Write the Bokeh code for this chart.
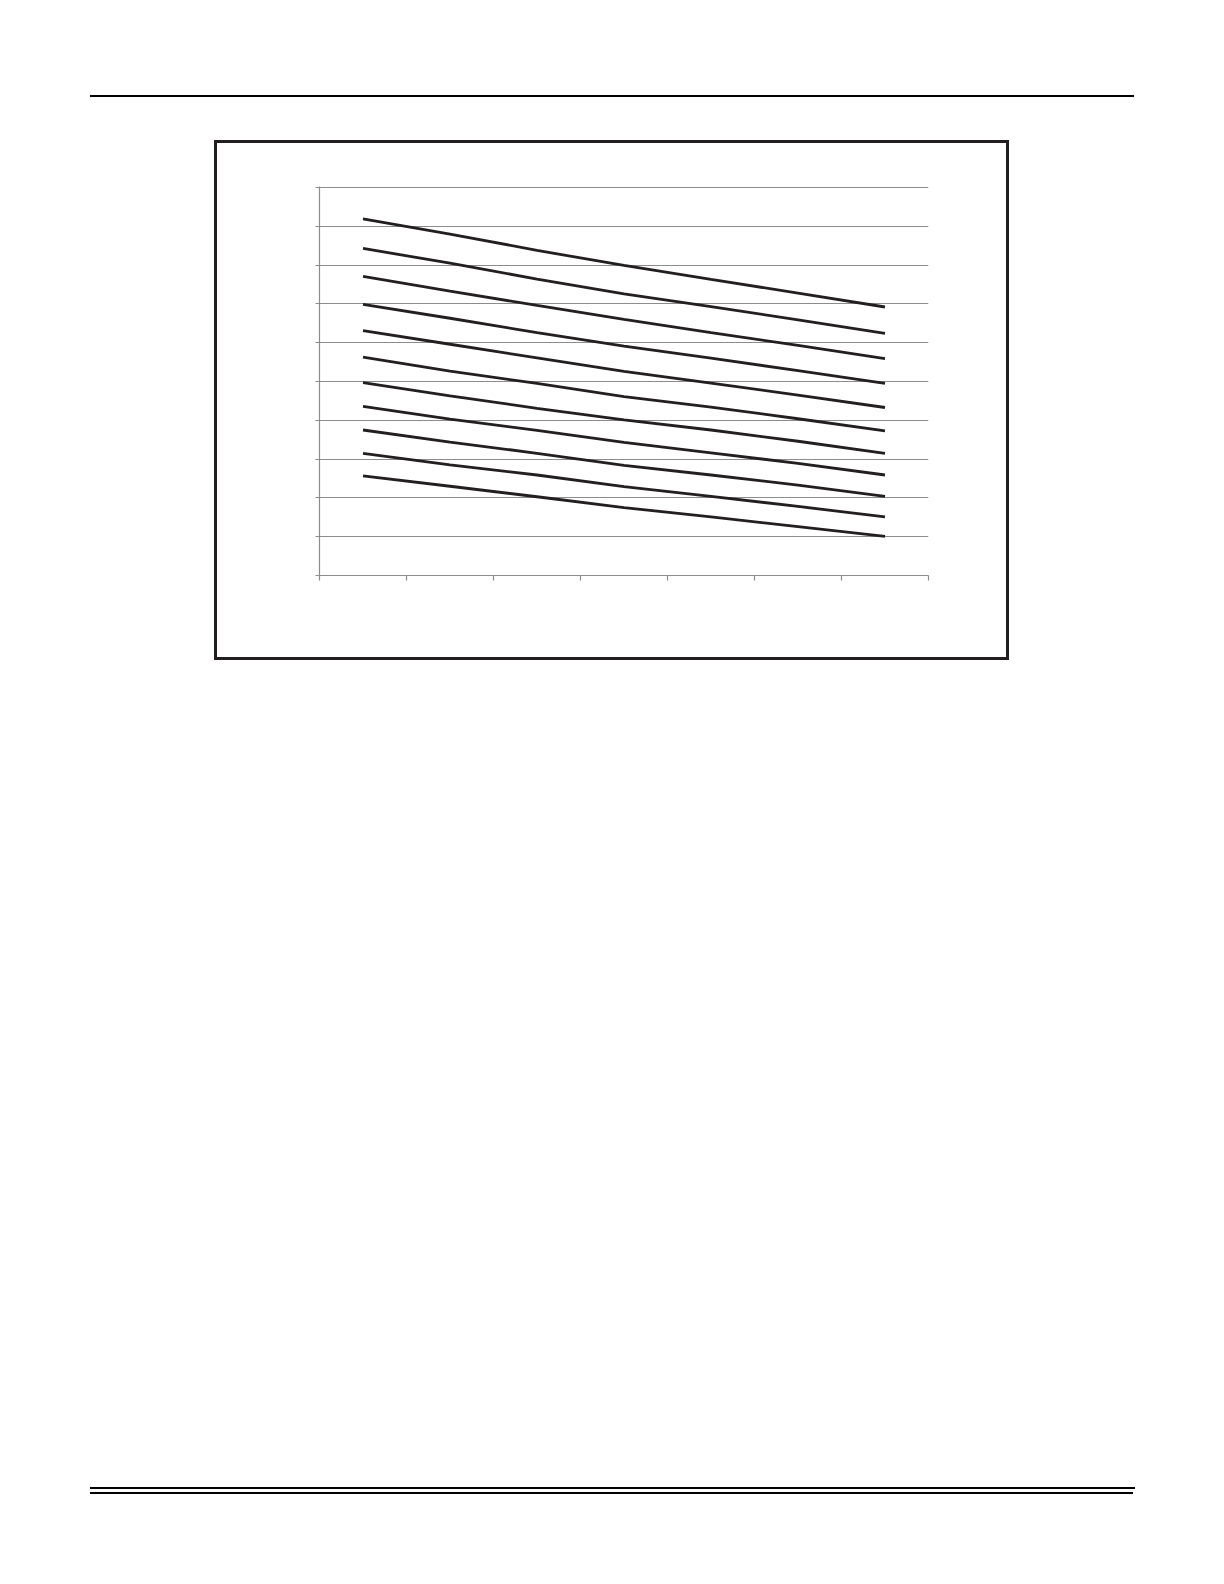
from bokeh.plotting import figure
from bokeh.models import Range1d, FixedTicker, Div, Column
from bokeh.embed import file_html
from bokeh.resources import INLINE

# ---- data (axis has 7 categories, values on a 0..10 grid) ----
x_points = [0.5, 1.5, 2.5, 3.5, 4.5, 5.5, 6.5]
x_ticks = [0, 1, 2, 3, 4, 5, 6, 7]
y_ticks = [0, 1, 2, 3, 4, 5, 6, 7, 8, 9, 10]

s1 = [9.19, 8.80, 8.38, 7.99, 7.63, 7.28, 6.92]
s2 = [8.43, 8.05, 7.64, 7.26, 6.93, 6.59, 6.24]
s3 = [7.71, 7.33, 6.96, 6.60, 6.26, 5.93, 5.59]
s4 = [6.99, 6.63, 6.26, 5.91, 5.60, 5.28, 4.95]
s5 = [6.31, 5.96, 5.61, 5.26, 4.96, 4.65, 4.33]
s6 = [5.63, 5.27, 4.95, 4.61, 4.34, 4.04, 3.73]
s7 = [4.97, 4.63, 4.31, 4.01, 3.75, 3.46, 3.15]
s8 = [4.36, 4.03, 3.74, 3.43, 3.16, 2.89, 2.59]
s9 = [3.75, 3.44, 3.15, 2.84, 2.59, 2.33, 2.04]
s10 = [3.15, 2.85, 2.59, 2.29, 2.04, 1.78, 1.51]
s11 = [2.57, 2.30, 2.03, 1.75, 1.51, 1.26, 1.01]
series = [s1, s2, s3, s4, s5, s6, s7, s8, s9, s10, s11]

# ---- chart figure (canvas origin = page origin) ----
W, H = 1160, 700
FL, FT, FW, FH = 319, 186, 609, 389

p = figure(width=W, height=H, output_backend="svg", toolbar_location=None,
           x_range=Range1d(0, 7), y_range=Range1d(0, 10 + 1 / 38.8),
           frame_width=FW, frame_height=FH,
           min_border_left=FL, min_border_top=FT,
           min_border_right=W - FL - FW, min_border_bottom=H - FT - FH,
           margin=(0, 0, 0, 0))
p.outline_line_color = None
p.background_fill_color = None
p.border_fill_color = None

grey = "#8c8c8c"
for ax in (p.xaxis, p.yaxis):
    ax.axis_line_color = grey
    ax.axis_line_width = 1.2
    ax.major_tick_line_color = grey
    ax.major_tick_line_width = 1.2
    ax.major_tick_in = 0
    ax.major_tick_out = 5
    ax.minor_tick_line_color = None
    ax.major_label_text_font_size = "0px"
    ax.major_label_text_color = None
p.yaxis.major_tick_out = 4
p.xaxis.ticker = FixedTicker(ticks=x_ticks)
p.yaxis.ticker = FixedTicker(ticks=y_ticks)
p.xgrid.grid_line_color = None
p.ygrid.ticker = FixedTicker(ticks=y_ticks)
p.ygrid.grid_line_color = grey
p.ygrid.grid_line_width = 1.2

for s in series:
    p.line(x_points, s, line_color="#231f20", line_width=2.8)


# ---- page decoration: rules and the frame box, as absolutely placed HTML blocks ----
def block(left, top, w, h, extra):
    st = {"position": "absolute", "left": f"{left}px", "top": f"{top}px",
          "width": f"{w}px", "height": f"{h}px", "max-width": "none",
          "box-sizing": "border-box"}
    st.update(extra)
    return Div(text="", width=int(round(w)), height=max(1, int(round(h))),
               margin=(0, 0, 0, 0), styles=st)


header = block(90, 95.3, 1044, 1.4, {"background-color": "#000"})
foot_thick = block(90, 1486.7, 1045, 2.3, {"background-color": "#000"})
foot_thin = block(90, 1492.3, 1043, 1.4, {"background-color": "#000"})
box = block(214, 140, 795, 520, {"border": "3px solid #231f20"})

root = Column(children=[p, header, foot_thick, foot_thin, box], spacing=0,
              margin=(0, 0, 0, 0))

open("out.html", "w").write(file_html(root, INLINE))
